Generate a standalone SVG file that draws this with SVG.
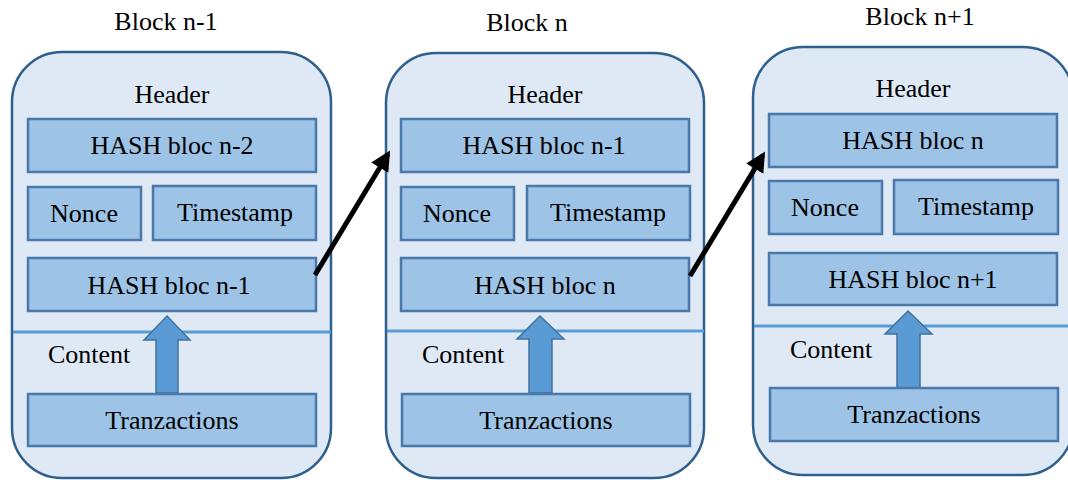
<svg xmlns="http://www.w3.org/2000/svg" width="1068" height="480" viewBox="0 0 1068 480">
  <style>
    text { font-family: "Liberation Serif", "Times New Roman", serif; font-size: 26px; fill: #000; }
    .mid { text-anchor: middle; }
    .block { fill: #dee9f5; stroke: #2f5f8c; stroke-width: 2.5; }
    .cell { fill: #9dc3e6; stroke: #4a78aa; stroke-width: 2.5; }
    .sep { stroke: #5b9bd5; stroke-width: 3; }
    .up { fill: #5b9bd5; stroke: #41719c; stroke-width: 1.5; }
    .link { stroke: #000; stroke-width: 5; fill: none; marker-end: url(#head); }
  </style>
  <defs>
    <marker id="head" viewBox="0 0 10 10" refX="8" refY="5" markerWidth="4" markerHeight="4" orient="auto" markerUnits="strokeWidth">
      <path d="M0,0 L10,5 L0,10 Z" fill="#000"/>
    </marker>
  </defs>

  <!-- Block n-1 -->
  <g id="block-n-1">
    <text class="mid" x="166" y="30">Block n-1</text>
    <rect class="block" x="12" y="52" width="319" height="426" rx="50" ry="50"/>
    <text class="mid" x="172" y="103">Header</text>
    <rect class="cell" x="28" y="119" width="288" height="53"/>
    <text class="mid" x="172" y="154">HASH bloc n-2</text>
    <rect class="cell" x="28" y="187" width="113" height="53"/>
    <text class="mid" x="84" y="222">Nonce</text>
    <rect class="cell" x="153" y="186" width="163" height="54"/>
    <text class="mid" x="235" y="221">Timestamp</text>
    <rect class="cell" x="28" y="258" width="288" height="53"/>
    <text class="mid" x="169" y="294">HASH bloc n-1</text>
    <line class="sep" x1="13" y1="332" x2="331" y2="332"/>
    <text x="48" y="363">Content</text>
    <path class="up" d="M167,316 L190,340 L178,340 L178,393 L156,393 L156,340 L144,340 Z"/>
    <rect class="cell" x="28" y="394" width="288" height="52"/>
    <text class="mid" x="172" y="429">Tranzactions</text>
  </g>

  <!-- Block n -->
  <g id="block-n">
    <text class="mid" x="527" y="31">Block n</text>
    <rect class="block" x="386" y="53" width="318" height="425" rx="50" ry="50"/>
    <text class="mid" x="545" y="103">Header</text>
    <rect class="cell" x="401" y="119" width="288" height="53"/>
    <text class="mid" x="544" y="154">HASH bloc n-1</text>
    <rect class="cell" x="401" y="187" width="113" height="53"/>
    <text class="mid" x="457" y="222">Nonce</text>
    <rect class="cell" x="527" y="186" width="163" height="54"/>
    <text class="mid" x="608" y="221">Timestamp</text>
    <rect class="cell" x="401" y="258" width="288" height="53"/>
    <text class="mid" x="545" y="294">HASH bloc n</text>
    <line class="sep" x1="387" y1="331" x2="704" y2="331"/>
    <text x="422" y="363">Content</text>
    <path class="up" d="M540,316 L564,339 L552,339 L552,393 L529,393 L529,339 L517,339 Z"/>
    <rect class="cell" x="402" y="394" width="288" height="52"/>
    <text class="mid" x="546" y="429">Tranzactions</text>
  </g>

  <!-- Block n+1 -->
  <g id="block-n1">
    <text class="mid" x="920" y="25">Block n+1</text>
    <rect class="block" x="753" y="47" width="320" height="428" rx="50" ry="50"/>
    <text class="mid" x="913" y="97">Header</text>
    <rect class="cell" x="769" y="114" width="288" height="53"/>
    <text class="mid" x="913" y="149">HASH bloc n</text>
    <rect class="cell" x="769" y="181" width="113" height="53"/>
    <text class="mid" x="825" y="216">Nonce</text>
    <rect class="cell" x="894" y="180" width="164" height="54"/>
    <text class="mid" x="976" y="215">Timestamp</text>
    <rect class="cell" x="769" y="253" width="288" height="52"/>
    <text class="mid" x="913" y="288">HASH bloc n+1</text>
    <line class="sep" x1="754" y1="326" x2="1068" y2="326"/>
    <text x="790" y="358">Content</text>
    <path class="up" d="M908,311 L932,334 L920,334 L920,388 L897,388 L897,334 L885,334 Z"/>
    <rect class="cell" x="770" y="388" width="288" height="53"/>
    <text class="mid" x="914" y="423">Tranzactions</text>
  </g>

  <!-- Hash links between blocks -->
  <g id="connectors">
    <line class="link" x1="315" y1="275" x2="388" y2="154"/>
    <line class="link" x1="690" y1="276" x2="763" y2="155"/>
  </g>
</svg>
